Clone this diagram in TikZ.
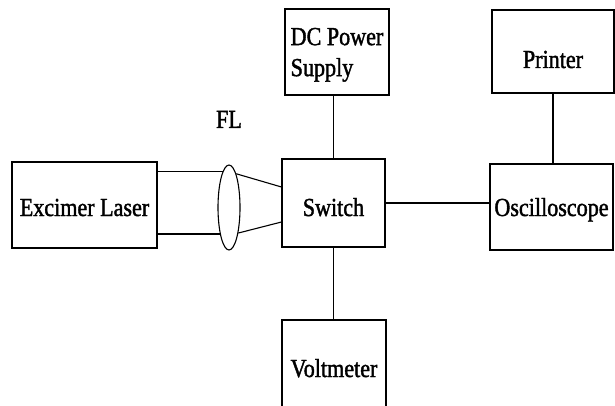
\documentclass[tikz,border=0pt]{standalone}
\usepackage{fontspec}
\setmainfont{Liberation Serif}[FakeStretch=0.85,FakeBold=1.5]
\usetikzlibrary{shapes.geometric,positioning}

\begin{document}
\begin{tikzpicture}[
    x=1pt, y=-1pt,
    line width=1.1pt,
    font=\fontsize{26}{31}\selectfont,
    box/.style={
        rectangle,draw,
        inner sep=0pt,
        text depth=0pt,
        align=center
    },
    lensshape/.style={
        ellipse,draw,
        inner sep=0pt,
        minimum width=22pt,
        minimum height=85pt
    }
]
\useasboundingbox (0,0) rectangle (615,406);

\node[box, minimum width=145pt, minimum height=86pt, text height=22pt] (laser) at (84.5,205) {Excimer Laser};
\node[lensshape] (lens) at (229,207.5) {};
\node[inner sep=0pt, text depth=0pt, above=36pt of lens] (fl) {FL};
\node[box, minimum width=103pt, minimum height=88pt, text height=26pt] (switch) at (333.5,203) {Switch};
\node[box, minimum width=104pt, minimum height=86pt, align=left] (dc) at (337,52) {DC Power\\Supply};
\node[box, minimum width=122pt, minimum height=83pt, text height=33pt] (printer) at (553,51.5) {Printer};
\node[box, minimum width=123pt, minimum height=86pt, text height=18pt] (osc) at (551.5,207) {Oscilloscope};
\node[box, minimum width=104pt, minimum height=90pt, text height=24pt] (volt) at (334,365) {Voltmeter};

% beam through the focusing lens
\draw (laser.east |- lens.100) -- (lens.100);
\draw (laser.east |- lens.251) -- (lens.251);
\draw (lens.78) -- ([yshift=16pt]switch.west);
\draw (lens.290) -- ([yshift=-19pt]switch.west);

\draw (switch.north) -- (switch.north |- dc.south);
\draw (switch.south) -- (switch.south |- volt.north);
\draw (switch.east) -- (switch.east -| osc.west);
\draw (printer.south) -- (printer.south |- osc.north);
\end{tikzpicture}
\end{document}
